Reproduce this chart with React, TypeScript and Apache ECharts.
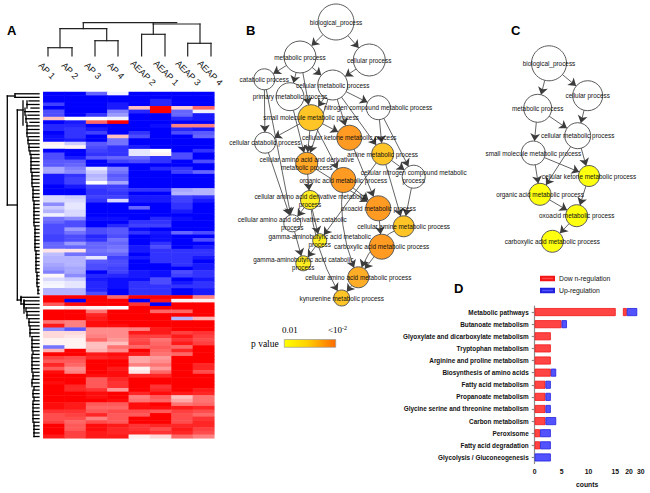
import React, { useEffect, useRef } from "react";
import * as echarts from "echarts";

const SANS = "'Liberation Sans', Arial, sans-serif";
const SERIF = "'Liberation Serif', serif";

// ---------- Panel A: heat map ----------
const heatColumns = ["AP 1", "AP 2", "AP 3", "AP 4", "AEAP 2", "AEAP 1", "AEAP 3", "AEAP 4"];
const heatRowsDown = [
  [-1, -1, -.6, -.05, -1, -1, -1, -1],
  [-1, -1, -1, -1, -1, -1, -1, -1],
  [-1, -1, -1, -1, -1, -.85, -1, -1],
  [-.75, -1, -1, -.9, -1, -.85, -1, -1],
  [-1, -1, -1, -.9, .25, 1, .2, .6],
  [-.7, -1, -1, -.5, -.85, 1, -.6, -.05],
  [-.7, -1, -.8, -.4, -1, -1, -.6, -.9],
  [.25, 0, 0, -.05, -1, -1, -.85, -.9],
  [-1, -.9, .6, 1, -1, -1, -1, -1],
  [-.85, -.85, -1, -1, -1, -.95, .5, .5],
  [-.85, -.8, -.9, -1, -1, -1, -.85, -.9],
  [-1, -.8, -.75, -1, -.8, -1, -.7, -.65],
  [-.95, -.8, -1, .25, -.7, -1, -1, -.6],
  [-.95, -.9, -1, -.55, -1, -1, -1, -1],
  [.05, -.2, -.65, -.55, -1, -1, -1, -1],
  [.02, .05, -.7, -.8, -.9, -1, -1, -1],
  [-1, -1, -.75, -.8, -.1, 0, -1, -.8],
  [-.7, -1, -.8, -.8, -.1, .05, -.7, -1],
  [-.7, -.9, -.65, -.6, -.6, -.8, -.7, -1],
  [-.65, -.65, -1, -.75, -.7, -.8, -1, -.7],
  [-.65, -.6, -1, -1, -1, -1, -1, -1],
  [-.35, -.5, -.1, -.5, -1, -.85, -.8, -1],
  [-.35, -.45, -.2, -.55, -1, -1, -.75, -.6],
  [-.9, -.8, -.3, -.65, -1, -1, -1, -1],
  [-.9, -.75, -.25, -.6, -1, -1, -1, -1],
  [-.9, -.75, 0, -.35, -1, -1, -1, -1],
  [-1, -.9, -.75, -.75, -1, -1, -1, -1],
  [-1, -1, -.8, -.75, -.8, -.8, -.35, -.3],
  [-1, -1, -.8, -.8, -1, -1, -.3, -.3],
  [-.15, -.2, -.75, -.75, -.9, -.9, -.75, -.8],
  [-.15, -.15, -.8, -.15, -.9, -.9, -.75, -.9],
  [-.45, -.1, -1, -1, -1, -1, -.8, -1],
  [-.2, -.1, -1, -1, -.6, -1, -.8, -1],
  [-.3, -.15, -1, -1, -1, -1, -.9, -1],
  [-.05, -.15, -1, -1, -1, -1, -1, -1],
  [-.55, -.45, -.95, -.95, -1, -.85, -.95, -1],
  [-.6, -.7, -1, -1, -.8, -.8, -1, -1],
  [-.7, -.7, -1, -.85, -.75, -.75, -1, -1],
  [-.7, -.4, -.7, -.65, -.95, -1, -1, -1],
  [-.7, -.55, -.7, -.65, -.8, -.9, -.6, -.7],
  [-.75, -.7, -.85, -.7, -1, -.95, -1, -1],
  [-.75, -.7, -.8, -.55, -1, -.95, -1, -.7],
  [-.6, -.4, -.6, -.6, -1, -.8, -1, -1],
  [-.6, -.6, -.6, -.55, -.9, -.7, -1, -.9],
  [.1, .1, -.55, -.5, -.9, -.8, -.8, -.8],
  [-.25, -.55, -.6, -.6, -1, -.8, -.8, -.8],
  [-.3, -.3, -.1, -.75, -.9, -.8, -.8, -.9],
  [-.3, -.3, -.65, -.7, -1, -.8, -.8, -1],
  [-.35, -.3, -.7, -.7, -1, -1, -.8, -.9],
  [-.4, -.35, -.7, -.75, -1, -1, -1, -.9],
  [-.5, -.35, -1, -.75, -.9, -.95, -.7, -.8],
  [.03, -.45, -.85, -.85, -.9, -.95, -.75, -.8],
  [-.15, -.2, -.9, -.95, -.95, -.7, -1, -.9],
  [-.05, -.1, -.85, -.95, -.8, -.7, -.9, -.8],
  [-.03, -.1, -.85, -.95, -.8, -.8, -.8, -.8],
  [-.3, -.3, -.85, -1, -.8, -.8, -1, -.9],
  [-.3, -.3, -.7, -1, -.8, -.8, -1, -.9],
];
const heatRowsUp = [
  [1, 1, 1, .6, 1, 1, 1, .5],
  [1, -1, 1, 1, -1, .9, .05, .05],
  [.65, .95, 1, 1, .8, -1, 1, 1],
  [0, .1, .05, 0, 1, 1, 1, 1],
  [1, 1, .55, 1, 1, .6, .6, 1],
  [1, 1, .85, 1, 1, 1, 1, 1],
  [1, 1, .9, 1, 1, 1, -.3, .3],
  [.55, .5, .95, 1, 1, 1, 1, 1],
  [.9, .5, .95, .95, 1, 1, 1, 1],
  [-.45, -.65, .45, .45, .5, .9, 1, 1],
  [.15, .15, .45, .45, .9, .9, .75, .8],
  [.15, .1, .5, .45, .75, .75, .9, .75],
  [.05, .05, .6, .4, .7, .55, .8, .7],
  [.05, .05, .25, .25, .75, .6, .9, .75],
  [-.55, .05, .25, .55, .6, .65, .6, 1],
  [.3, 1, .3, .45, 1, .6, .85, 1],
  [1, 1, .9, .95, .9, .55, .6, 1],
  [.75, .7, .85, .9, .35, .4, 1, 1],
  [.65, .65, 1, 1, .35, .45, 1, 1],
  [.85, .6, 1, 1, .5, .55, 1, .85],
  [.65, .45, 1, .9, .05, .4, 1, .85],
  [.95, .5, 1, .95, .1, .6, 1, .7],
  [1, 1, .95, .95, .85, .85, 1, 1],
  [1, 1, .65, .85, 1, 1, 1, 1],
  [.95, 1, .65, .8, 1, 1, 1, 1],
  [1, .85, .65, .8, 1, .8, 1, 1],
  [1, .85, .8, .4, 1, .85, 1, .9],
  [1, 1, .95, 1, .85, .95, .9, .85],
  [1, 1, .95, 1, .5, .65, .25, .55],
  [1, 1, 1, .95, .55, .6, .35, .55],
  [.95, .9, .65, .65, .95, 1, .55, .6],
  [.95, .9, .6, .6, .95, .95, .9, .85],
  [.8, .8, .65, .7, .7, .65, .75, .7],
  [.7, .75, .85, .65, .65, 1, .7, .6],
  [.7, .7, .5, .65, 1, 1, .7, .8],
  [.75, .6, .7, .65, 1, 1, .7, .85],
  [1, .65, .95, .9, .8, .85, .85, .85],
  [1, .65, .95, .85, .8, .7, .9, .75],
  [1, .75, .9, .85, .85, .8, .85, .7],
  [.9, .75, .9, .9, .05, .15, .6, .5],
];

// Dendrogram joins, in page pixels.
const columnTreeSegments = [
  [48, 56, 48, 47.7], [72, 56, 72, 47.7], [48, 47.7, 72, 47.7],
  [95, 56, 95, 40.7], [118, 56, 118, 40.7], [95, 40.7, 118, 40.7],
  [60, 47.7, 60, 28.7], [106.7, 40.7, 106.7, 28.7], [60, 28.7, 106.7, 28.7],
  [141.6, 56, 141.6, 34.3], [165, 56, 165, 34.3], [141.6, 34.3, 165, 34.3],
  [187.7, 56, 187.7, 43.3], [211, 56, 211, 43.3], [187.7, 43.3, 211, 43.3],
  [153.3, 34.3, 153.3, 24], [200, 43.3, 200, 24], [153.3, 24, 200, 24],
  [83.3, 28.7, 83.3, 22.7], [153.3, 24, 153.3, 22.7], [83.3, 22.7, 176.7, 22.7],
];
const rowTreeRoots = [
  [7.3, 96, 15, 96], [7.3, 96, 7.3, 205], [7.3, 205, 17.3, 205],
  [17.3, 110, 17.3, 300], [17.3, 110, 23, 110], [23, 101, 23, 125],
  [17.3, 300, 21, 300], [21, 296.5, 21, 304], [21, 304, 24, 304], [24, 300, 24, 313],
];
const rowJoinDown = [
  15, 15, 29, 27, 31, 25, 28, 26, 30, 27, 28, 27, 29, 28, 30, 29, 30, 31, 31,
  31, 32, 31, 32, 32, 33, 32, 33, 33, 34, 33, 34, 34, 34, 34, 34, 35, 34, 35,
  35, 35, 35, 35, 35, 35, 36, 36, 36, 36, 36, 36, 37, 37, 37, 37, 38, 38, 38,
];
const rowJoinUp = [
  21, 24, 24, 26, 27, 27, 29, 29, 30, 31, 30, 32, 32, 33, 32, 34, 33, 32, 33,
  32, 32, 34, 33, 33, 32, 34, 34, 33, 34, 34, 33, 34, 33, 34, 33, 34, 34, 34, 34, 34,
];

// ---------- Panels B and C: GO graphs ----------
const nodesB = [
  "biological_process", "metabolic process", "cellular process", "catabolic process",
  "primary metabolic process", "cellular metabolic process", "small molecule metabolic process",
  "nitrogen compound metabolic process", "cellular ketone metabolic process",
  "cellular catabolic process", "amine metabolic process",
  "cellular amino acid and derivative\nmetabolic process", "organic acid metabolic process",
  "cellular nitrogen compound metabolic\nprocess", "oxoacid metabolic process",
  "cellular amino acid derivative metabolic\nprocess", "cellular amine metabolic process",
  "cellular amino acid derivative catabolic\nprocess", "gamma-aminobutyric acid metabolic\nprocess",
  "carboxylic acid metabolic process", "gamma-aminobutyric acid catabolic\nprocess",
  "cellular amino acid metabolic process", "kynurenine metabolic process",
];
const layoutB = [
  [336, 22, 36], [300, 57, 32], [369.3, 60, 32], [264.3, 79.3, 21], [290, 96.7, 28],
  [332.7, 85, 30], [311, 117.7, 26], [378.3, 107.7, 24], [349.3, 137.7, 25], [265, 142.7, 21],
  [382.7, 154, 22], [306.7, 163.3, 22], [343.3, 180, 25], [413.7, 176.7, 23], [378.3, 208.3, 25],
  [310, 200, 19], [403.7, 226.3, 21], [292.3, 223.3, 17], [319.7, 240.7, 14], [381.7, 246.7, 25],
  [303.3, 263.3, 15], [358.3, 277.3, 21], [341.7, 298, 16],
];
const fillsB = [
  "#fff", "#fff", "#fff", "#fff", "#fff", "#fff", "#ffc425", "#fff", "#ff9a22", "#fff", "#ffc425",
  "#ffa726", "#ff9a22", "#fff", "#ff9a22", "#ffee22", "#ffc425", "#fff", "#ffee22", "#ff9a22",
  "#ffee22", "#ffac26", "#ffc425",
];
const edgesB = [
  [0, 1], [0, 2], [1, 3], [1, 4], [1, 5], [1, 6], [2, 5], [3, 9], [3, 17], [4, 11], [5, 6], [5, 7],
  [5, 8], [5, 10], [5, 11], [6, 8], [6, 9], [6, 11], [6, 12], [7, 10], [7, 13], [10, 13], [8, 14],
  [9, 17], [11, 15], [11, 14], [12, 14], [15, 17], [15, 18], [15, 22], [17, 20], [18, 20], [10, 18],
  [14, 19], [13, 16], [16, 21], [19, 21], [21, 22], [12, 21], [10, 16],
];
const curvedEdgesB = new Map([["15-22", -0.12], ["12-21", -0.15], ["16-21", -0.25]]);

const nodesC = [
  "biological_process", "cellular process", "metabolic process", "cellular metabolic process",
  "small molecule metabolic process", "cellular ketone metabolic process",
  "organic acid metabolic process", "oxoacid metabolic process", "carboxylic acid metabolic process",
];
const layoutC = [
  [549, 63.3, 35], [587.7, 95.7, 30], [537.7, 108.3, 28], [577.7, 135.7, 26], [533.3, 153, 24],
  [589, 176, 21], [540, 194.3, 22], [576.7, 215.7, 22], [552.3, 241.3, 22],
];
const fillsC = ["#fff", "#fff", "#fff", "#fff", "#fff", "#ffff10", "#ffff10", "#ffff10", "#ffff10"];
const edgesC = [
  [0, 2], [0, 1], [1, 3], [2, 3], [2, 4], [3, 5], [3, 6], [4, 5], [4, 6], [5, 7], [6, 7], [7, 8],
];

// ---------- Panel D: KEGG counts ----------
const pathways = [
  "Metabolic pathways", "Butanoate metabolism", "Glyoxylate and dicarboxylate metabolism",
  "Tryptophan metabolism", "Arginine and proline metabolism", "Biosynthesis of amino acids",
  "Fatty acid metabolism", "Propanoate metabolism", "Glycine serine and threonine metabolism",
  "Carbon metabolism", "Peroxisome", "Fatty acid degradation", "Glycolysis / Gluconeogenesis",
];
const downCounts = [18, 5, 3, 3, 3, 3, 2, 2, 2, 2, 1, 1, 0];
const upCounts = [9, 1, 0, 0, 0, 1, 1, 1, 1, 2, 2, 2, 3];

const OVERLAY = 2;
const HEAT = 3;

function treeSegments(joins: number[], y0: number, rowH: number, leafX: number, breakAfter: number[]) {
  const out: number[][] = [];
  joins.forEach((x, i) => {
    const y = y0 + rowH * (i + 0.5);
    out.push([x, y, leafX, y]);
    if (i < joins.length - 1 && !breakAfter.includes(i)) {
      out.push([Math.min(x, joins[i + 1]), y, Math.min(x, joins[i + 1]), y + rowH]);
    }
  });
  return out;
}

function segmentSeries(data: number[][], stroke: string, lineWidth: number) {
  return {
    type: "custom",
    coordinateSystem: "cartesian2d",
    xAxisIndex: OVERLAY,
    yAxisIndex: OVERLAY,
    silent: true,
    clip: false,
    encode: { x: [0, 2], y: [1, 3] },
    data,
    renderItem: (_: any, api: any) => {
      const a = api.coord([api.value(0), api.value(1)]);
      const b = api.coord([api.value(2), api.value(3)]);
      return {
        type: "line",
        shape: { x1: a[0], y1: a[1], x2: b[0], y2: b[1] },
        style: { stroke, lineWidth, lineCap: "square" },
      };
    },
  };
}

function graphSeries(names: string[], layout: number[][], fills: string[], edges: number[][], curved: Map<string, number>) {
  return {
    type: "graph",
    coordinateSystem: "cartesian2d",
    xAxisIndex: OVERLAY,
    yAxisIndex: OVERLAY,
    layout: "none",
    silent: true,
    edgeSymbol: ["none", "arrow"],
    edgeSymbolSize: [0, 7.5],
    lineStyle: { color: "#3c3c3c", width: 0.8, opacity: 1 },
    itemStyle: { borderColor: "#5a5a5a", borderWidth: 1, opacity: 1 },
    label: {
      show: true,
      position: "inside",
      formatter: "{b}",
      fontFamily: SANS,
      fontSize: 6.4,
      lineHeight: 8,
      color: "#111",
      align: "center",
      verticalAlign: "middle",
    },
    data: names.map((name, i) => ({
      name,
      value: [layout[i][0], layout[i][1]],
      symbolSize: layout[i][2],
      itemStyle: { color: fills[i] },
    })),
    links: edges.map(([source, target]) => ({
      source,
      target,
      lineStyle: { curveness: curved.get(source + "-" + target) ?? 0 },
    })),
  };
}

function barSeries(grid: number) {
  const base = { type: "bar", stack: "g" + grid, barWidth: 8, xAxisIndex: grid, yAxisIndex: grid, silent: true };
  const hide = (v: number) => (v === 0 ? null : v);
  return [
    { ...base, name: "Dow n-regulation", data: downCounts.map(hide), itemStyle: { color: "#ff4444", borderColor: "#f21616", borderWidth: 0.8 } },
    { ...base, name: "Up-regulation", data: upCounts.map(hide), itemStyle: { color: "#5252ff", borderColor: "#2222dd", borderWidth: 0.8 } },
  ];
}

export default function App() {
  const ref = useRef<HTMLDivElement>(null);
  useEffect(() => {
    document.body.style.margin = "0";
    const chart = echarts.init(ref.current!, null, { renderer: "svg" });
    const heatRows = [...heatRowsDown, ...heatRowsUp];
    const heatData: number[][] = [];
    heatRows.forEach((row, r) => row.forEach((v, c) => heatData.push([c, r, v])));
    const rowH = 346.3 / heatRows.length;
    const rowSegments = [
      ...rowTreeRoots,
      ...treeSegments([...rowJoinDown, ...rowJoinUp], 92, rowH, 39, [1, rowJoinDown.length - 1]),
    ];
    const axisGray = { lineStyle: { color: "#8c8c8c", width: 1.2 } };
    const tickLabel = { fontFamily: SANS, fontSize: 6.8, fontWeight: "bold" as const, color: "#111", margin: 4 };

    const labelLeaves = [40, 63, 86, 109, 132, 155, 177, 199];
    const labelTops = [64, 64, 64, 64, 62, 62, 62, 62];

    const txt = (text: string, x: number, y: number, font: any, extra: any = {}) => ({
      type: "text",
      x,
      y,
      silent: true,
      ...extra,
      style: { text, fill: "#000", textAlign: "left", textVerticalAlign: "middle", ...font },
    });
    const panelFont = { fontFamily: SANS, fontSize: 13, fontWeight: "bold" };
    const serifFont = { fontFamily: SERIF, fontSize: 9 };

    chart.setOption({
      animation: false,
      backgroundColor: "#fff",
      grid: [
        { left: 534.7, top: 306, width: 80.6, height: 157.5 },
        { left: 623.3, top: 306, width: 17.4, height: 157.5 },
        { left: 0, top: 0, width: 650, height: 493 },
        { left: 43.3, top: 92, width: 171, height: 346.3 },
      ],
      xAxis: [
        { type: "value", gridIndex: 0, min: 0, max: 15, interval: 5, splitLine: { show: false },
          axisLine: axisGray, axisTick: { length: 3, ...axisGray }, axisLabel: tickLabel },
        { type: "value", gridIndex: 1, min: 15, max: 30, splitLine: { show: false },
          axisLine: axisGray, axisTick: { length: 3, customValues: [15, 20, 30], ...axisGray },
          axisLabel: { ...tickLabel, customValues: [20, 30] } },
        { type: "value", gridIndex: 2, min: 0, max: 650, show: false },
        { type: "category", gridIndex: 3, data: heatColumns, show: false },
      ],
      yAxis: [
        { type: "category", gridIndex: 0, data: pathways, inverse: true, axisLine: axisGray,
          axisTick: { show: true, length: 3, alignWithLabel: true, ...axisGray },
          axisLabel: { fontFamily: SANS, fontSize: 6.4, fontWeight: "bold", color: "#111", margin: 6, interval: 0 } },
        { type: "category", gridIndex: 1, data: pathways, inverse: true, show: false },
        { type: "value", gridIndex: 2, min: 0, max: 493, inverse: true, show: false },
        { type: "category", gridIndex: 3, data: heatRows.map((_, i) => String(i)), inverse: true, show: false },
      ],
      legend: {
        left: 535,
        top: 270,
        orient: "vertical",
        itemWidth: 13,
        itemHeight: 3.5,
        itemGap: 5,
        icon: "rect",
        selectedMode: false,
        textStyle: { fontFamily: SANS, fontSize: 6.8, color: "#111" },
        data: ["Dow n-regulation", "Up-regulation"],
      },
      visualMap: {
        show: false,
        seriesIndex: 0,
        dimension: 2,
        min: -1,
        max: 1,
        inRange: { color: ["#0000ff", "#ffffff", "#ff0000"] },
      },
      series: [
        { type: "heatmap", xAxisIndex: HEAT, yAxisIndex: HEAT, data: heatData, silent: true, progressive: 0 },
        segmentSeries(columnTreeSegments, "#222", 1.2),
        segmentSeries(rowSegments, "#000", 1.3),
        graphSeries(nodesB, layoutB, fillsB, edgesB, curvedEdgesB),
        graphSeries(nodesC, layoutC, fillsC, edgesC, new Map()),
        ...barSeries(0),
        ...barSeries(1),
      ],
      graphic: [
        txt("A", 7, 30, panelFont),
        txt("B", 246, 30, panelFont),
        txt("C", 511, 30, panelFont),
        txt("D", 454, 288, panelFont),
        ...heatColumns.map((c, i) =>
          txt(c, labelLeaves[i], labelTops[i], { fontFamily: SANS, fontSize: 9, fill: "#111" }, { rotation: -Math.PI / 4 })),
        txt("0.01", 282, 330, serifFont),
        txt("<10", 328, 330, serifFont),
        txt("-2", 342, 328, { fontFamily: SERIF, fontSize: 6 }),
        txt("p value", 251, 344, { fontFamily: SERIF, fontSize: 9.5 }),
        {
          type: "rect",
          silent: true,
          shape: { x: 284.3, y: 339.5, width: 51.4, height: 7.8 },
          style: {
            stroke: "#999",
            lineWidth: 0.7,
            fill: new echarts.graphic.LinearGradient(0, 0, 1, 0, [
              { offset: 0, color: "#ffff00" },
              { offset: 0.45, color: "#ffd000" },
              { offset: 1, color: "#ff6a00" },
            ]),
          },
        },
        txt("counts", 576, 484, { fontFamily: SANS, fontSize: 6.8, fontWeight: "bold", fill: "#111" }),
      ],
    });
    return () => chart.dispose();
  }, []);
  return <div ref={ref} style={{ width: 650, height: 493 }} />;
}
